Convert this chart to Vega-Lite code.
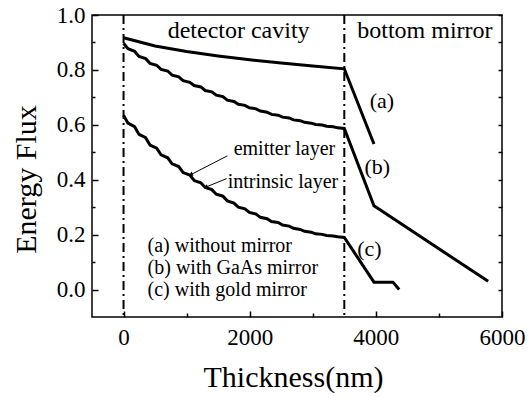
{
  "$schema": "https://vega.github.io/schema/vega-lite/v6.json",
  "width": 410,
  "height": 302,
  "autosize": {"type": "none"},
  "padding": {"left": 92, "top": 15, "right": 29, "bottom": 80},
  "background": "white",
  "config": {
    "view": {"stroke": "black", "strokeWidth": 1.5},
    "axis": {"domain": false, "grid": false, "tickColor": "black", "tickWidth": 1.5,
      "labelFont": "Liberation Serif", "labelFontSize": 23, "labelColor": "black",
      "titleFont": "Liberation Serif", "titleFontSize": 30, "titleFontWeight": "normal", "titleColor": "black",
      "labelFlush": false, "labelOverlap": false, "labelBound": false},
    "text": {"font": "Liberation Serif", "color": "black"}
  },
  "resolve": {"axis": {"y": "independent"}},
  "layer": [
    {
      "data": {"values": [
        {"c":"a","x":0,"y":0.917},{"c":"a","x":500,"y":0.887},{"c":"a","x":1000,"y":0.867},{"c":"a","x":1500,"y":0.851},{"c":"a","x":2000,"y":0.837},{"c":"a","x":2500,"y":0.825},{"c":"a","x":3000,"y":0.814},{"c":"a","x":3500,"y":0.804},{"c":"a","x":3970,"y":0.53},
        {"c":"b","x":0,"y":0.897},{"c":"b","x":70,"y":0.877},{"c":"b","x":175,"y":0.868},{"c":"b","x":245,"y":0.849},{"c":"b","x":350,"y":0.841},{"c":"b","x":420,"y":0.824},{"c":"b","x":525,"y":0.817},{"c":"b","x":595,"y":0.802},{"c":"b","x":700,"y":0.796},{"c":"b","x":770,"y":0.781},{"c":"b","x":875,"y":0.775},{"c":"b","x":945,"y":0.761},{"c":"b","x":1050,"y":0.755},{"c":"b","x":1120,"y":0.743},{"c":"b","x":1225,"y":0.738},{"c":"b","x":1295,"y":0.725},{"c":"b","x":1400,"y":0.72},{"c":"b","x":1470,"y":0.708},{"c":"b","x":1575,"y":0.703},{"c":"b","x":1645,"y":0.69},{"c":"b","x":1750,"y":0.685},{"c":"b","x":1820,"y":0.675},{"c":"b","x":1925,"y":0.671},{"c":"b","x":1995,"y":0.662},{"c":"b","x":2100,"y":0.658},{"c":"b","x":2170,"y":0.65},{"c":"b","x":2275,"y":0.646},{"c":"b","x":2345,"y":0.638},{"c":"b","x":2450,"y":0.635},{"c":"b","x":2520,"y":0.628},{"c":"b","x":2625,"y":0.625},{"c":"b","x":2695,"y":0.618},{"c":"b","x":2800,"y":0.615},{"c":"b","x":2870,"y":0.609},{"c":"b","x":2975,"y":0.606},{"c":"b","x":3045,"y":0.601},{"c":"b","x":3150,"y":0.599},{"c":"b","x":3220,"y":0.595},{"c":"b","x":3325,"y":0.593},{"c":"b","x":3395,"y":0.589},{"c":"b","x":3500,"y":0.587},{"c":"b","x":3970,"y":0.305},{"c":"b","x":5780,"y":0.03},
        {"c":"c","x":0,"y":0.635},{"c":"c","x":70,"y":0.606},{"c":"c","x":175,"y":0.593},{"c":"c","x":245,"y":0.565},{"c":"c","x":350,"y":0.553},{"c":"c","x":420,"y":0.526},{"c":"c","x":525,"y":0.515},{"c":"c","x":595,"y":0.491},{"c":"c","x":700,"y":0.48},{"c":"c","x":770,"y":0.458},{"c":"c","x":875,"y":0.448},{"c":"c","x":945,"y":0.426},{"c":"c","x":1050,"y":0.417},{"c":"c","x":1120,"y":0.397},{"c":"c","x":1225,"y":0.389},{"c":"c","x":1295,"y":0.372},{"c":"c","x":1400,"y":0.364},{"c":"c","x":1470,"y":0.347},{"c":"c","x":1575,"y":0.34},{"c":"c","x":1645,"y":0.323},{"c":"c","x":1750,"y":0.315},{"c":"c","x":1820,"y":0.3},{"c":"c","x":1925,"y":0.294},{"c":"c","x":1995,"y":0.281},{"c":"c","x":2100,"y":0.275},{"c":"c","x":2170,"y":0.263},{"c":"c","x":2275,"y":0.258},{"c":"c","x":2345,"y":0.248},{"c":"c","x":2450,"y":0.244},{"c":"c","x":2520,"y":0.235},{"c":"c","x":2625,"y":0.231},{"c":"c","x":2695,"y":0.223},{"c":"c","x":2800,"y":0.219},{"c":"c","x":2870,"y":0.212},{"c":"c","x":2975,"y":0.209},{"c":"c","x":3045,"y":0.203},{"c":"c","x":3150,"y":0.201},{"c":"c","x":3220,"y":0.197},{"c":"c","x":3325,"y":0.195},{"c":"c","x":3395,"y":0.192},{"c":"c","x":3500,"y":0.19},{"c":"c","x":3970,"y":0.027},{"c":"c","x":4270,"y":0.027},{"c":"c","x":4370,"y":0.0}
      ]},
      "mark": {"type": "line", "color": "black", "strokeWidth": 3},
      "encoding": {
        "x": {"field": "x", "type": "quantitative",
          "scale": {"domain": [-500, 6000], "nice": false, "zero": false},
          "axis": {"orient": "bottom", "values": [0, 1000, 2000, 3000, 4000, 5000, 6000], "format": "d",
            "labelExpr": "datum.value % 2000 === 0 ? datum.label : ''",
            "tickSize": {"condition": {"test": "datum.value % 2000 === 0", "value": -6}, "value": -4},
            "labelPadding": 15, "title": "Thickness(nm)", "titleX": 201, "titleY": 69, "titleBaseline": "alphabetic"}},
        "y": {"field": "y", "type": "quantitative",
          "scale": {"domain": [-0.1, 1.0], "nice": false, "zero": false},
          "axis": {"orient": "left", "values": [0, 0.1, 0.2, 0.3, 0.4, 0.5, 0.6, 0.7, 0.8, 0.9, 1.0], "format": ".1f",
            "labelExpr": "round(datum.value * 10) % 2 === 0 ? datum.label : ''",
            "tickSize": {"condition": {"test": "round(datum.value * 10) % 2 === 0", "value": -6}, "value": -3},
            "labelPadding": 13, "title": "Energy Flux", "titleX": -57, "titleY": 164, "titleBaseline": "alphabetic", "titleAngle": -90}},
        "detail": {"field": "c"}
      }
    },
    {
      "data": {"values": [{"x": 0}, {"x": 3500}]},
      "mark": {"type": "rule", "color": "black", "strokeWidth": 2, "strokeDash": [9, 4, 2, 4]},
      "encoding": {"x": {"field": "x", "type": "quantitative"}}
    },
    {
      "data": {"values": [
        {"x": 1646, "y": 0.487, "x2": 1063, "y2": 0.418},
        {"x": 1635, "y": 0.404, "x2": 1302, "y2": 0.373}
      ]},
      "mark": {"type": "rule", "color": "black", "strokeWidth": 1},
      "encoding": {
        "x": {"field": "x", "type": "quantitative"},
        "y": {"field": "y", "type": "quantitative", "axis": null},
        "x2": {"field": "x2"},
        "y2": {"field": "y2"}
      }
    },
    {
      "data": {"values": [
        {"x": 1075, "y": 0.42},
        {"x": 1315, "y": 0.374}
      ]},
      "mark": {"type": "point", "shape": "triangle", "filled": true, "color": "black", "size": 22, "angle": 245, "opacity": 1},
      "encoding": {
        "x": {"field": "x", "type": "quantitative"},
        "y": {"field": "y", "type": "quantitative", "axis": null}
      }
    },
    {
      "data": {"values": [
        {"x": 1825, "y": 0.916, "t": "detector cavity"},
        {"x": 4778, "y": 0.916, "t": "bottom mirror"}
      ]},
      "mark": {"type": "text", "fontSize": 24, "align": "center", "baseline": "alphabetic"},
      "encoding": {
        "x": {"field": "x", "type": "quantitative"},
        "y": {"field": "y", "type": "quantitative",
          "axis": {"orient": "right", "values": [0, 0.1, 0.2, 0.3, 0.4, 0.5, 0.6, 0.7, 0.8, 0.9, 1.0], "labels": false, "tickSize": -4, "title": null}},
        "text": {"field": "t"}
      }
    },
    {
      "data": {"values": [
        {"x": 4095, "y": 0.662, "t": "(a)"},
        {"x": 4024, "y": 0.422, "t": "(b)"},
        {"x": 3897, "y": 0.124, "t": "(c)"}
      ]},
      "mark": {"type": "text", "fontSize": 22, "align": "center", "baseline": "alphabetic"},
      "encoding": {
        "x": {"field": "x", "type": "quantitative"},
        "y": {"field": "y", "type": "quantitative", "axis": null},
        "text": {"field": "t"}
      }
    },
    {
      "data": {"values": [
        {"x": 1746, "y": 0.491, "t": "emitter layer"},
        {"x": 1651, "y": 0.371, "t": "intrinsic layer"},
        {"x": 381, "y": 0.138, "t": "(a) without mirror"},
        {"x": 381, "y": 0.058, "t": "(b) with GaAs mirror"},
        {"x": 381, "y": -0.022, "t": "(c) with gold mirror"}
      ]},
      "mark": {"type": "text", "fontSize": 20, "align": "left", "baseline": "alphabetic"},
      "encoding": {
        "x": {"field": "x", "type": "quantitative"},
        "y": {"field": "y", "type": "quantitative", "axis": null},
        "text": {"field": "t"}
      }
    }
  ]
}
